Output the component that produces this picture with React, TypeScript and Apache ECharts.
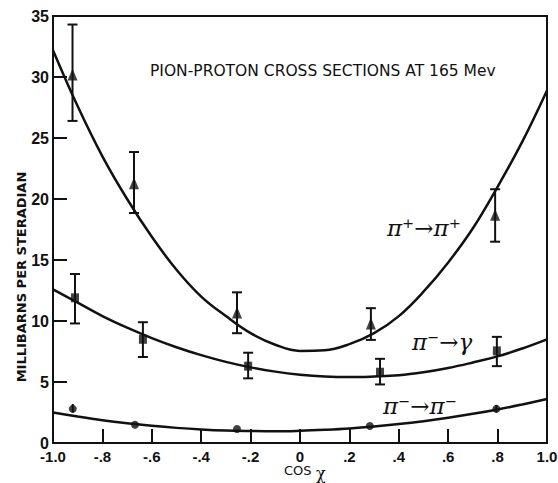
import React, { useEffect, useRef } from 'react';
import * as echarts from 'echarts';

const xTickLabels = ['-1.0', '-.8', '-.6', '-.4', '-.2', '0', '.2', '.4', '.6', '.8', '1.0'];
const yTickLabels = ['0', '5', '10', '15', '20', '25', '30', '35'];

// fitted curves
const curveX = [-1.0, -0.9, -0.8, -0.7, -0.6, -0.5, -0.4, -0.3, -0.2, -0.1, 0, 0.1, 0.2, 0.3, 0.4, 0.5, 0.6, 0.7, 0.8, 0.9, 1.0];
const curvePlus = [32.2, 27.6, 23.5, 20.0, 16.9, 14.2, 12.0, 10.4, 9.0, 8.05, 7.55, 7.6, 8.1, 9.0, 10.4, 12.4, 14.8, 17.6, 21.0, 24.7, 28.9];
const curveGamma = [12.6, 11.5, 10.4, 9.45, 8.6, 7.85, 7.2, 6.65, 6.2, 5.85, 5.6, 5.45, 5.4, 5.45, 5.55, 5.8, 6.15, 6.6, 7.1, 7.75, 8.5];
const curveMinus = [2.5, 2.17, 1.87, 1.62, 1.41, 1.24, 1.11, 1.02, 0.98, 0.96, 1.0, 1.08, 1.19, 1.35, 1.55, 1.79, 2.07, 2.39, 2.75, 3.16, 3.6];

// pi+ -> pi+ (triangles)
const plusX = [-0.921, -0.672, -0.255, 0.287, 0.79];
const plusY = [30.2, 21.3, 10.7, 9.8, 18.7];
const plusLo = [26.4, 18.85, 9.0, 8.45, 16.5];
const plusHi = [34.3, 23.85, 12.35, 11.05, 20.8];

// pi- -> gamma (squares)
const gammaX = [-0.911, -0.636, -0.21, 0.324, 0.797];
const gammaY = [11.9, 8.5, 6.3, 5.8, 7.55];
const gammaLo = [9.8, 7.05, 5.3, 4.8, 6.3];
const gammaHi = [13.85, 9.9, 7.4, 6.9, 8.7];

// pi- -> pi- (circles)
const minusX = [-0.92, -0.668, -0.255, 0.283, 0.795];
const minusY = [2.8, 1.5, 1.15, 1.4, 2.8];
const minusLo = [2.5, 1.5, 1.15, 1.4, 2.5];
const minusHi = [3.2, 1.5, 1.15, 1.4, 3.1];

const ink = '#111';
const sans = "'DejaVu Sans', 'Liberation Sans', sans-serif";
const tickFont = "'Liberation Sans', Arial, sans-serif";
const serif = "'DejaVu Serif', 'Liberation Serif', serif";

function errorSeries(xs: number[], lo: number[], hi: number[]) {
  return {
    type: 'custom',
    data: xs.map((x, i) => [x, lo[i], hi[i]]),
    encode: { x: 0, y: [1, 2] },
    z: 3,
    renderItem: (_params: any, api: any) => {
      const x = api.value(0);
      const l = api.value(1);
      const h = api.value(2);
      const a = api.coord([x, h]);
      const b = api.coord([x, l]);
      const style = { stroke: ink, lineWidth: 2 };
      const children: any[] = [];
      if (h - l > 0.01) {
        children.push({ type: 'line', shape: { x1: a[0], y1: a[1], x2: b[0], y2: b[1] }, style });
      }
      if (h - l > 1) {
        children.push({ type: 'line', shape: { x1: a[0] - 5, y1: a[1], x2: a[0] + 5, y2: a[1] }, style });
        children.push({ type: 'line', shape: { x1: b[0] - 5, y1: b[1], x2: b[0] + 5, y2: b[1] }, style });
      }
      return { type: 'group', children };
    },
  };
}

function curveSeries(ys: number[]) {
  return {
    type: 'line',
    data: curveX.map((x, i) => [x, ys[i]]),
    smooth: 0.4,
    showSymbol: false,
    symbol: 'none',
    lineStyle: { color: ink, width: 2.5 },
    z: 2,
  };
}

function markSeries(xs: number[], ys: number[], symbol: string, size: any) {
  return {
    type: 'scatter',
    data: xs.map((x, i) => [x, ys[i]]),
    symbol,
    symbolSize: size,
    itemStyle: { color: ink },
    z: 4,
  };
}

export default function App() {
  const ref = useRef<HTMLDivElement>(null);
  useEffect(() => {
    const chart = echarts.init(ref.current!, null, { renderer: 'svg' });
    chart.setOption({
      animation: false,
      backgroundColor: '#fff',
      grid: {
        left: 53,
        right: 11,
        top: 16,
        bottom: 40,
        show: true,
        borderColor: ink,
        borderWidth: 2,
        outerBoundsMode: 'none',
      },
      xAxis: {
        type: 'value',
        min: -1,
        max: 1,
        interval: 0.2,
        axisLine: { onZero: false, lineStyle: { color: ink, width: 2 } },
        axisTick: { inside: true, length: 14, lineStyle: { color: ink, width: 2 } },
        splitLine: { show: false },
        axisLabel: {
          color: ink,
          fontFamily: tickFont,
          fontSize: 15,
          fontWeight: 'bold',
          lineHeight: 12,
          margin: 7,
          showMinLabel: true,
          showMaxLabel: true,
          formatter: (_v: number, i: number) => xTickLabels[i],
        },
      },
      yAxis: {
        type: 'value',
        min: 0,
        max: 35,
        interval: 5,
        axisLine: { show: true, onZero: false, lineStyle: { color: ink, width: 2 } },
        axisTick: { show: true, inside: true, length: 14, lineStyle: { color: ink, width: 2 } },
        splitLine: { show: false },
        axisLabel: {
          color: ink,
          fontFamily: tickFont,
          fontSize: 16,
          fontWeight: 'bold',
          lineHeight: 12,
          margin: 4,
          formatter: (_v: number, i: number) => yTickLabels[i],
        },
      },
      graphic: [
        {
          type: 'text',
          left: 150,
          top: 63,
          style: {
            text: 'PION-PROTON CROSS SECTIONS AT 165 Mev',
            font: `15.5px ${sans}`,
            fill: ink,
          },
        },
        {
          type: 'text',
          x: 21,
          y: 277,
          rotation: Math.PI / 2,
          style: {
            text: 'MILLIBARNS PER STERADIAN',
            font: `bold 13px ${sans}`,
            fill: ink,
            align: 'center',
            verticalAlign: 'middle',
          },
        },
        {
          type: 'text',
          x: 284,
          y: 470,
          style: { text: 'COS', font: `13px ${sans}`, fill: ink, align: 'left', verticalAlign: 'middle' },
        },
        {
          type: 'text',
          x: 316,
          y: 473,
          style: { text: 'χ', font: `16px ${serif}`, fill: ink, align: 'left', verticalAlign: 'middle' },
        },
        {
          type: 'text',
          x: 387,
          y: 228,
          style: { text: 'π⁺→π⁺', font: `italic 23px ${serif}`, fill: ink, align: 'left', verticalAlign: 'middle' },
        },
        {
          type: 'text',
          x: 412,
          y: 342,
          style: { text: 'π⁻→γ', font: `italic 23px ${serif}`, fill: ink, align: 'left', verticalAlign: 'middle' },
        },
        {
          type: 'text',
          x: 383,
          y: 406,
          style: { text: 'π⁻→π⁻', font: `italic 23px ${serif}`, fill: ink, align: 'left', verticalAlign: 'middle' },
        },
      ],
      series: [
        curveSeries(curvePlus),
        curveSeries(curveGamma),
        curveSeries(curveMinus),
        errorSeries(plusX, plusLo, plusHi),
        errorSeries(gammaX, gammaLo, gammaHi),
        errorSeries(minusX, minusLo, minusHi),
        markSeries(plusX, plusY, 'triangle', [10, 12]),
        markSeries(gammaX, gammaY, 'rect', [8, 9]),
        markSeries(minusX, minusY, 'circle', 8),
      ],
    });
    return () => chart.dispose();
  }, []);
  return <div ref={ref} style={{ position: 'fixed', left: 0, top: 0, width: 558, height: 483 }} />;
}
